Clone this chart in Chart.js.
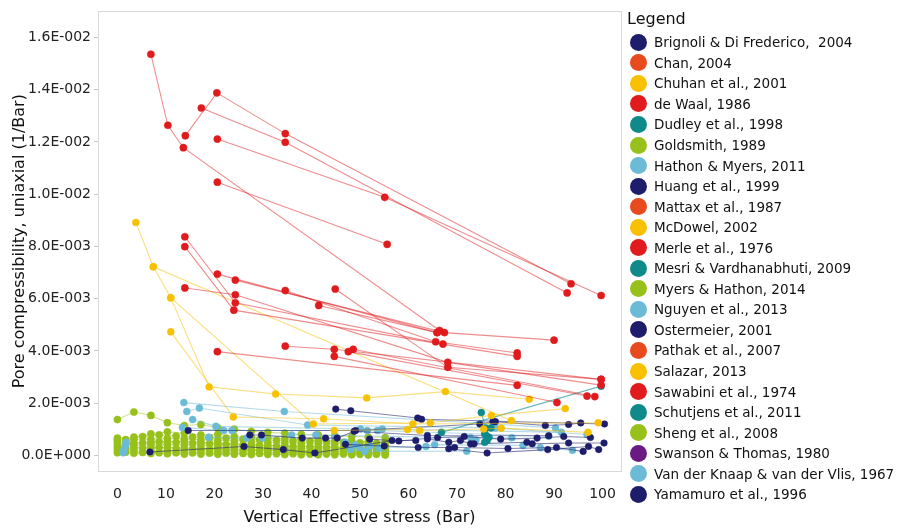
<!DOCTYPE html>
<html><head><meta charset="utf-8">
<script src="https://cdn.jsdelivr.net/npm/chart.js@4.4.1/dist/chart.umd.min.js"></script>
<style>
html,body{margin:0;padding:0;background:#fff;}
#wrap{position:relative;width:899px;height:529px;overflow:hidden;font-family:"DejaVu Sans",sans-serif;}
#c{position:absolute;left:0;top:0;}
#legend{position:absolute;left:627px;top:6px;color:#111;}
#legend .ttl{font-size:16px;height:26px;line-height:26px;}
#legend .it{height:20.55px;display:flex;align-items:center;font-size:13.5px;white-space:pre;}
#legend .dot{width:17px;height:17px;border-radius:50%;margin-left:3px;margin-right:7px;flex:none;}
</style></head>
<body><div id="wrap"><canvas id="c" width="899" height="529"></canvas><div id="legend"></div></div>
<script>
// ---------- DATA ----------
const xTicks = [0,10,20,30,40,50,60,70,80,90,100];
const yTicks = [0,0.002,0.004,0.006,0.008,0.010,0.012,0.014,0.016];

const legendNames = ["Brignoli & Di Frederico,  2004","Chan, 2004","Chuhan et al., 2001","de Waal, 1986","Dudley et al., 1998","Goldsmith, 1989","Hathon & Myers, 2011","Huang et al., 1999","Mattax et al., 1987","McDowel, 2002","Merle et al., 1976","Mesri & Vardhanabhuti, 2009","Myers & Hathon, 2014","Nguyen et al., 2013","Ostermeier, 2001","Pathak et al., 2007","Salazar, 2013","Sawabini et al., 1974","Schutjens et al., 2011","Sheng et al., 2008","Swanson & Thomas, 1980","Van der Knaap & van der Vlis, 1967","Yamamuro et al., 1996"];
const legendGroups = ["navy","orange","gold","red","teal","green","blue","navy","orange","gold","red","teal","green","blue","navy","orange","gold","red","teal","green","purple","blue","navy"];

// red studies (de Waal / Merle / Sawabini): [stress (Bar), compressibility (1/Bar)]
const redLines = [
  [[6.9,0.01536],[10.4,0.01264],[13.6,0.01178],[66.4,0.00478]],
  [[14.0,0.01224],[20.5,0.01388],[34.6,0.01232],[93.5,0.00657]],
  [[17.3,0.0133],[34.6,0.01199],[92.7,0.00622]],
  [[20.6,0.01211],[55.1,0.00988],[99.7,0.00612]],
  [[20.6,0.01046],[55.6,0.00808]],
  [[13.9,0.00837],[24.3,0.00584],[67.1,0.00426]],
  [[13.9,0.00799],[24.0,0.00556],[82.4,0.00379]],
  [[13.9,0.00641],[24.3,0.00615],[68.1,0.00356],[99.7,0.00269]],
  [[20.6,0.00694],[65.9,0.0047]],
  [[24.3,0.00671],[67.4,0.0047],[90.0,0.00441]],
  [[34.6,0.00631],[65.6,0.00435],[82.4,0.00392]],
  [[44.9,0.00637],[68.1,0.00337],[99.7,0.00291]],
  [[41.5,0.00574],[65.9,0.0047]],
  [[20.6,0.00397],[82.4,0.00268]],
  [[34.6,0.00418],[44.7,0.00406],[99.7,0.00291]],
  [[44.7,0.00379],[90.6,0.00202]],
  [[47.6,0.00397],[96.8,0.00227]],
  [[48.6,0.00406],[98.4,0.00225]]
];
// gold studies (Chuhan / McDowel / Salazar)
const goldLines = [
  [[3.8,0.00892],[7.4,0.00722],[81.2,0.00133]],
  [[11.0,0.00603],[18.9,0.00262],[32.6,0.00235],[51.4,0.0022],[67.6,0.00244],[84.9,0.00215]],
  [[7.4,0.00722],[11.0,0.00603],[40.4,0.0012],[64.5,0.00125],[77.1,0.00153],[92.3,0.00179]],
  [[11.0,0.00473],[23.9,0.00147],[42.5,0.0014],[60.9,0.0012],[99.1,0.00125]],
  [[44.7,0.00095],[59.8,0.00099],[62.3,0.00095],[75.5,0.00101],[79.1,0.00104],[97.0,0.00088]]
];
// teal studies (Dudley / Mesri / Schutjens)
const tealLines = [
  [[66.8,0.00088],[99.7,0.00265]],
  [[75.0,0.00164],[75.9,0.00105],[77.0,0.00105],[75.7,0.00082],[76.0,0.00076],[76.6,0.00069],[76.2,0.00057],[75.7,0.0005]]
];
// navy studies (Brignoli / Huang / Ostermeier / Yamamuro)
const navyLines = [
  [[45.0,0.00177],[48.1,0.00171],[61.9,0.00143],[62.7,0.00138],[100.4,0.0012]],
  [[14.6,0.00095],[49.1,0.00095],[74.7,0.0012],[77.4,0.00129],[77.9,0.00129],[88.2,0.00114],[93.0,0.00118],[95.5,0.00124]],
  [[27.3,0.00078],[29.7,0.00078],[38.1,0.00066],[42.9,0.00066],[45.3,0.00066],[48.8,0.00092],[63.9,0.00076],[88.9,0.00075]],
  [[6.7,0.00013],[26.1,0.00034],[34.2,0.00022],[40.7,0.00009],[56.6,0.00057],[61.5,0.00057]],
  [[63.9,0.00063],[68.3,0.0005],[70.7,0.00057],[72.8,0.00044],[73.5,0.00044],[84.4,0.0005],[85.5,0.00044],[93.0,0.00047],[100.3,0.00047]],
  [[68.3,0.00025],[76.2,0.00009],[88.7,0.00022],[97.1,0.00034],[99.2,0.00022]],
  [[52.0,0.00062],[58.0,0.00055],[66.0,0.00068],[71.5,0.00072],[79.0,0.00062],[86.5,0.00066],[92.0,0.00072],[97.5,0.00068]],
  [[47.0,0.00042],[55.0,0.00036],[62.0,0.00030],[69.5,0.00030],[80.5,0.00026],[90.5,0.00030],[96.0,0.00015]]
];
// light blue studies (Hathon & Myers / Nguyen / Van der Knaap)
const blueLines = [
  [[13.7,0.00202],[34.4,0.00168],[90.3,0.00105]],
  [[14.3,0.00168],[16.9,0.00181],[39.2,0.00116],[77.9,0.00105],[96.8,0.0008]],
  [[15.5,0.00137],[20.3,0.00111],[50.1,0.00101],[54.6,0.00101],[91.5,0.00088]],
  [[13.4,0.00107],[21.9,0.00095],[23.6,0.00095],[51.5,0.00095],[53.6,0.00095],[88.9,0.00073]],
  [[1.2,0.0001],[1.3,0.00019],[1.5,0.00029],[1.7,0.0004],[1.8,0.0005]],
  [[18.8,0.00069],[26.7,0.00066],[29.9,0.00066],[35.9,0.00078],[40.9,0.00078],[72.8,0.00067],[81.3,0.00067]],
  [[45.0,0.0007],[47.0,0.0005],[49.0,0.0004],[50.0,0.0003],[52.0,0.00035],[54.0,0.00028],[63.6,0.00034],[65.4,0.00041],[83.6,0.00038],[87.2,0.00029],[93.8,0.00019]],
  [[48.0,0.00022],[51.0,0.00015],[72.0,0.00016],[73.9,0.00059]]
];
// green studies (Goldsmith / Myers & Hathon / Sheng): stress steps and values
const greenStress = [0,3.4,6.9,10.3,13.8,17.2,20.7,24.1,27.6,31.0,34.5,37.9,41.4,44.8,48.3,51.7,55.2];
const green1 = [0.00137,0.00166,0.00153,0.00125,0.00114,0.00118,0.00105,0.00100,0.00092,0.00088,0.00085,0.00080,0.00078,0.00075,0.00072,0.00070,0.00068];
const green2 = [0.00066,0.00070,0.00082,0.00090,0.00085,0.00078,0.00080,0.00072,0.00070,0.00066,0.00063,0.00060,0.00058,0.00057,0.00055,0.00052,0.00050];
const green3 = [0.00058,0.00060,0.00062,0.00065,0.00063,0.00060,0.00058,0.00056,0.00052,0.00050,0.00048,0.00046,0.00045,0.00044,0.00042,0.00040,0.00038];
const green4 = [0.00050,0.00046,0.00050,0.00052,0.00054,0.00050,0.00046,0.00044,0.00040,0.00038,0.00036,0.00035,0.00033,0.00032,0.00031,0.00030,0.00029];
const green5 = [0.00040,0.00038,0.00040,0.00042,0.00040,0.00038,0.00036,0.00033,0.00030,0.00029,0.00028,0.00026,0.00025,0.00024,0.00023,0.00022,0.00021];
const green6 = [0.00030,0.00030,0.00028,0.00030,0.00028,0.00026,0.00025,0.00024,0.00022,0.00020,0.00019,0.00018,0.00017,0.00016,0.00015,0.00014,0.00013];
const green7 = [0.00020,0.00018,0.00016,0.00018,0.00017,0.00016,0.00015,0.00014,0.00013,0.00012,0.00011,0.00010,0.00009,0.00009,0.00008,0.00008,0.00007];
const green8 = [0.00010,0.00008,0.00007,0.00006,0.00005,0.00005,0.00004,0.00004,0.00003,0.00003,0.00003,0.00002,0.00002,0.00002,0.00002,0.00001,0.00001];
const greenStressB = [1.7,5.2,8.6,12.1,15.5,19.0,22.4,25.9,29.3,32.8,36.2,39.7,43.1,46.6,50.0,53.4];
const green9  = [0.00060,0.00072,0.00078,0.00074,0.00070,0.00068,0.00066,0.00062,0.00060,0.00058,0.00055,0.00054,0.00052,0.00050,0.00048,0.00046];
const green10 = [0.00044,0.00048,0.00052,0.00050,0.00047,0.00045,0.00042,0.00040,0.00038,0.00036,0.00034,0.00033,0.00032,0.00030,0.00029,0.00028];
const green11 = [0.00026,0.00028,0.00030,0.00027,0.00025,0.00023,0.00022,0.00020,0.00019,0.00018,0.00017,0.00016,0.00015,0.00014,0.00013,0.00012];
const green12 = [0.00012,0.00011,0.00010,0.00010,0.00009,0.00008,0.00008,0.00007,0.00007,0.00006,0.00006,0.00005,0.00005,0.00005,0.00004,0.00004];

// ---------- STYLE ----------
const colors = {
  navy:['#1d1d6c','rgba(29,29,108,0.55)'],
  orange:['#e8491d','rgba(232,73,29,0.5)'],
  gold:['#f7c000','rgba(247,192,0,0.5)'],
  red:['#e01b1d','rgba(224,27,29,0.5)'],
  teal:['#0f8a8b','rgba(15,138,139,0.6)'],
  green:['#97c11a','rgba(151,193,26,0.45)'],
  blue:['#6bbad6','rgba(107,186,214,0.5)'],
  purple:['#6b1a84','rgba(107,26,132,0.5)']
};
const FONT = '"DejaVu Sans", sans-serif';

function mk(points, group, r){
  return {
    data: points.map(p => ({x:p[0], y:p[1]})),
    showLine:true, borderColor:colors[group][1], borderWidth:1.1,
    pointRadius:r, pointHoverRadius:r,
    pointBackgroundColor:colors[group][0], pointBorderColor:colors[group][0], pointBorderWidth:0.5,
    tension:0
  };
}
const datasets = [];
redLines.forEach(l => datasets.push(mk(l,'red',3.6)));
goldLines.forEach(l => datasets.push(mk(l,'gold',3.5)));
tealLines.forEach(l => datasets.push(mk(l,'teal',3.5)));
navyLines.forEach(l => datasets.push(mk(l,'navy',3.3)));
blueLines.forEach(l => datasets.push(mk(l,'blue',3.5)));
[green1,green2,green3,green4,green5,green6,green7,green8].forEach(g =>
  datasets.push(mk(greenStress.map((x,i)=>[x,g[i]]),'green',3.6)));
[green9,green10,green11,green12].forEach(g =>
  datasets.push(mk(greenStressB.map((x,i)=>[x,g[i]]),'green',3.6)));

function fmtE(v){
  const parts = Number(v).toExponential(1).split('e');
  const n = parseInt(parts[1],10);
  return parts[0] + 'E' + (n<0?'-':'+') + String(Math.abs(n)).padStart(3,'0');
}

const boxPlugin = {
  id:'box',
  beforeDatasetsDraw(chart){
    const {ctx, chartArea:a} = chart;
    ctx.save(); ctx.strokeStyle='#d9d9d9'; ctx.lineWidth=1;
    ctx.strokeRect(Math.round(a.left)+0.5, Math.round(a.top)+0.5, Math.round(a.right-a.left), Math.round(a.bottom-a.top));
    ctx.restore();
  }
};

new Chart(document.getElementById('c'), {
  type:'scatter',
  data:{datasets},
  plugins:[boxPlugin],
  options:{
    responsive:false, animation:false, devicePixelRatio:1,
    layout:{padding:{left:0,top:7,right:278,bottom:0}},
    plugins:{legend:{display:false}, tooltip:{enabled:false}},
    scales:{
      x:{
        type:'linear', min:-4, max:103.8,
        afterBuildTicks:s=>{ s.ticks = xTicks.map(v=>({value:v})); },
        afterFit:s=>{ s.height = 58; },
        grid:{display:false}, border:{display:false},
        ticks:{font:{family:FONT,size:14}, color:'#222', padding:7, maxRotation:0, autoSkip:false},
        title:{display:true, text:'Vertical Effective stress (Bar)', font:{family:FONT,size:16}, color:'#111', padding:{top:0,bottom:2}}
      },
      y:{
        type:'linear', min:-0.0006, max:0.017,
        afterBuildTicks:s=>{ s.ticks = yTicks.map(v=>({value:v})); },
        afterFit:s=>{ s.width = 98; },
        grid:{display:true, drawOnChartArea:false, drawTicks:true, tickLength:4, color:'#c8c8c8'},
        border:{display:false},
        ticks:{font:{family:FONT,size:14}, color:'#222', padding:3, autoSkip:false, callback:v=>fmtE(v)},
        title:{display:true, text:'Pore compressibility, uniaxial (1/Bar)', font:{family:FONT,size:16}, color:'#111', padding:{top:10,bottom:0}}
      }
    }
  }
});

// HTML legend
const lg = document.getElementById('legend');
const t = document.createElement('div'); t.className='ttl'; t.textContent='Legend'; lg.appendChild(t);
legendNames.forEach((n,i)=>{
  const d=document.createElement('div'); d.className='it';
  const c=document.createElement('span'); c.className='dot'; c.style.background=colors[legendGroups[i]][0];
  const s=document.createElement('span'); s.textContent=n;
  d.appendChild(c); d.appendChild(s); lg.appendChild(d);
});
</script></body></html>
